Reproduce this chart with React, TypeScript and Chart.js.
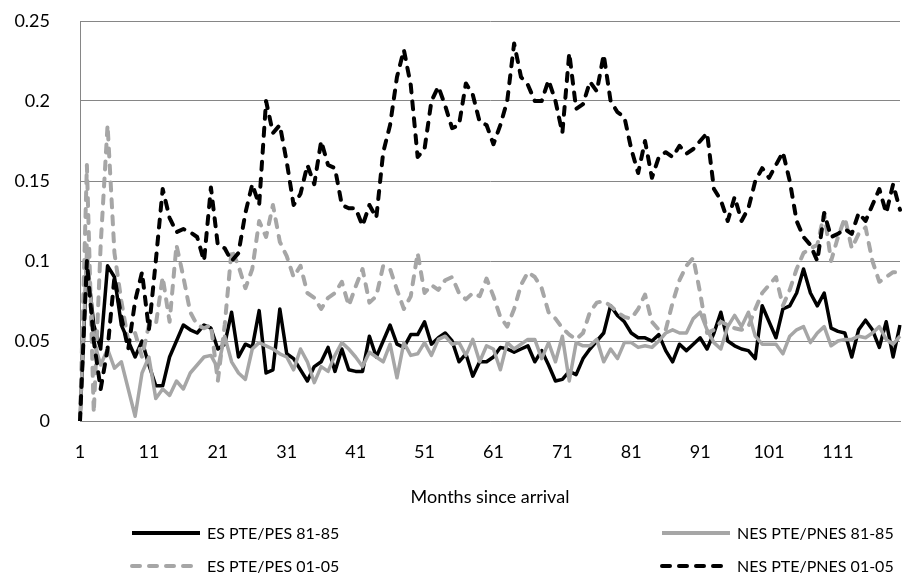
import React, { useEffect, useRef } from "react";
import { Chart, registerables } from "chart.js";
Chart.register(...registerables);

const months: string[] = Array.from({ length: 120 }, (_, i) => String(i + 1));

const yTicks = [0, 0.05, 0.1, 0.15, 0.2, 0.25];

const seriesNames = ["ES PTE/PES 81-85", "NES PTE/PNES 81-85", "ES PTE/PES 01-05", "NES PTE/PNES 01-05"];

const esPes8185 = [
  0, 0.1, 0.06, 0.045, 0.097, 0.09, 0.06, 0.05, 0.04, 0.05, 0.035, 0.022, 0.022, 0.04, 0.05, 0.06, 0.057, 0.055, 0.06, 0.058,
  0.045, 0.048, 0.068, 0.04, 0.048, 0.046, 0.069, 0.03, 0.032, 0.07, 0.042, 0.039, 0.032, 0.025, 0.034, 0.037, 0.046, 0.031, 0.045, 0.032,
  0.031, 0.031, 0.053, 0.04, 0.05, 0.06, 0.048, 0.046, 0.054, 0.054, 0.062, 0.048, 0.052, 0.055, 0.05, 0.037, 0.042, 0.028, 0.037, 0.037,
  0.04, 0.046, 0.045, 0.043, 0.045, 0.047, 0.037, 0.044, 0.035, 0.025, 0.026, 0.031, 0.029, 0.039, 0.045, 0.05, 0.055, 0.072, 0.066, 0.062,
  0.055, 0.052, 0.052, 0.05, 0.054, 0.044, 0.037, 0.048, 0.044, 0.048, 0.052, 0.045, 0.055, 0.068, 0.05, 0.047, 0.045, 0.044, 0.039, 0.072,
  0.062, 0.052, 0.07, 0.072, 0.08, 0.095, 0.08, 0.072, 0.08, 0.058, 0.056, 0.055, 0.04, 0.057, 0.063, 0.057, 0.046, 0.062, 0.04, 0.06,
];

const nesPnes8185 = [
  0, 0.11, 0.05, 0.035, 0.045, 0.033, 0.037, 0.02, 0.003, 0.03, 0.04, 0.014, 0.02, 0.016, 0.025, 0.02, 0.03, 0.035, 0.04, 0.041,
  0.033, 0.053, 0.037, 0.03, 0.026, 0.045, 0.049, 0.047, 0.045, 0.042, 0.04, 0.032, 0.045, 0.037, 0.024, 0.034, 0.031, 0.041, 0.049, 0.045,
  0.04, 0.034, 0.043, 0.04, 0.037, 0.048, 0.027, 0.049, 0.041, 0.042, 0.049, 0.041, 0.051, 0.053, 0.048, 0.049, 0.041, 0.051, 0.037, 0.047,
  0.045, 0.032, 0.049, 0.045, 0.048, 0.051, 0.051, 0.039, 0.049, 0.037, 0.053, 0.025, 0.049, 0.047, 0.047, 0.051, 0.037, 0.045, 0.039, 0.049,
  0.049, 0.046, 0.047, 0.046, 0.05, 0.055, 0.057, 0.055, 0.055, 0.064, 0.068, 0.057, 0.049, 0.045, 0.059, 0.066, 0.059, 0.068, 0.053, 0.048,
  0.048, 0.048, 0.042, 0.053, 0.057, 0.059, 0.049, 0.055, 0.059, 0.047, 0.05, 0.051, 0.051, 0.053, 0.052, 0.055, 0.059, 0.051, 0.048, 0.053,
];

const esPes0105 = [
  0, 0.16, 0.005, 0.11, 0.185, 0.105, 0.075, 0.05, 0.055, 0.04, 0.06, 0.06, 0.09, 0.062, 0.11, 0.09, 0.068, 0.06, 0.058, 0.06,
  0.025, 0.06, 0.107, 0.097, 0.083, 0.095, 0.125, 0.115, 0.135, 0.112, 0.103, 0.09, 0.097, 0.08, 0.077, 0.07, 0.077, 0.08, 0.087, 0.072,
  0.084, 0.095, 0.074, 0.078, 0.097, 0.095, 0.082, 0.07, 0.078, 0.105, 0.08, 0.085, 0.082, 0.088, 0.09, 0.08, 0.076, 0.08, 0.078, 0.089,
  0.078, 0.065, 0.059, 0.07, 0.085, 0.093, 0.09, 0.083, 0.068, 0.064, 0.058, 0.054, 0.051, 0.055, 0.068, 0.074, 0.075, 0.072, 0.068, 0.065,
  0.064, 0.07, 0.079, 0.062, 0.057, 0.057, 0.074, 0.088, 0.097, 0.102, 0.08, 0.055, 0.057, 0.062, 0.06, 0.058, 0.057, 0.059, 0.07, 0.08,
  0.085, 0.09, 0.072, 0.082, 0.095, 0.105, 0.108, 0.11, 0.13, 0.1, 0.115, 0.127, 0.108, 0.117, 0.121, 0.1, 0.087, 0.09, 0.093, 0.093,
];

const nesPnes0105 = [
  0, 0.1, 0.05, 0.02, 0.045, 0.09, 0.065, 0.045, 0.075, 0.093, 0.057, 0.1, 0.145, 0.127, 0.118, 0.12, 0.118, 0.115, 0.1, 0.146,
  0.11, 0.108, 0.1, 0.105, 0.13, 0.148, 0.135, 0.2, 0.18, 0.185, 0.162, 0.135, 0.142, 0.16, 0.148, 0.175, 0.16, 0.158, 0.135, 0.133,
  0.133, 0.122, 0.135, 0.127, 0.168, 0.185, 0.215, 0.232, 0.21, 0.165, 0.17, 0.2, 0.209, 0.197, 0.183, 0.185, 0.211, 0.204, 0.187, 0.185,
  0.173, 0.185, 0.2, 0.236, 0.215, 0.21, 0.2, 0.2, 0.213, 0.2, 0.18, 0.23, 0.195, 0.198, 0.212, 0.206, 0.229, 0.2, 0.193, 0.19,
  0.17, 0.155, 0.175, 0.152, 0.165, 0.168, 0.165, 0.172, 0.167, 0.17, 0.175, 0.18, 0.145, 0.138, 0.125, 0.14, 0.125, 0.133, 0.15, 0.158,
  0.152, 0.16, 0.168, 0.15, 0.125, 0.115, 0.11, 0.1, 0.13, 0.115, 0.117, 0.12, 0.117, 0.13, 0.125, 0.135, 0.145, 0.13, 0.148, 0.132,
];

const BLACK = "#000000";
const GRAY = "#A6A6A6";
const AXIS = "#868686";
const FONT = "Lato, 'Liberation Sans', sans-serif";
const FSIZE = 18;
const LEGEND_FSIZE = 16;
const DASH = [8, 9];

export default function App() {
  const ref = useRef<HTMLCanvasElement>(null);

  useEffect(() => {
    document.body.style.margin = "0";
    const legendPlugin = {
      id: "twoColLegend",
      afterDraw(chart: any) {
        const ctx = chart.ctx;
        const pos = [
          { x: 130, y: 533 },
          { x: 660, y: 533 },
          { x: 130, y: 566 },
          { x: 660, y: 566 },
        ];
        const dsByLabel: any = {};
        chart.data.datasets.forEach((d: any) => (dsByLabel[d.label] = d));
        ctx.save();
        seriesNames.forEach((name, i) => {
          const d = dsByLabel[name];
          const p = pos[i];
          ctx.beginPath();
          ctx.strokeStyle = d.borderColor;
          ctx.lineWidth = 4;
          ctx.lineCap = d.borderDash && d.borderDash.length ? "round" : "butt";
          ctx.setLineDash(d.borderDash || []);
          ctx.moveTo(p.x + 2, p.y);
          ctx.lineTo(p.x + 70, p.y);
          ctx.stroke();
          ctx.setLineDash([]);
          ctx.fillStyle = "#000";
          ctx.font = `${LEGEND_FSIZE}px ${FONT}`;
          ctx.textBaseline = "middle";
          ctx.textAlign = "left";
          ctx.fillText(name, p.x + 77, p.y + 1);
        });
        ctx.restore();
      },
    };

    const mk = (label: string, data: number[], color: string, dashed: boolean, order: number) => ({
      label,
      data,
      borderColor: color,
      backgroundColor: color,
      borderWidth: dashed ? 4 : 3.5,
      borderDash: dashed ? DASH : [],
      borderCapStyle: dashed ? "round" : "butt",
      borderJoinStyle: "round",
      pointRadius: 0,
      tension: 0,
      fill: false,
      order,
    });

    const chart = new Chart(ref.current as HTMLCanvasElement, {
      type: "line",
      data: {
        labels: months,
        datasets: [
          mk(seriesNames[0], esPes8185, BLACK, false, 4),
          mk(seriesNames[1], nesPnes8185, GRAY, false, 3),
          mk(seriesNames[2], esPes0105, GRAY, true, 2),
          mk(seriesNames[3], nesPnes0105, BLACK, true, 1),
        ] as any,
      },
      options: {
        animation: false,
        responsive: true,
        maintainAspectRatio: false,
        layout: { padding: { top: 21, right: 2, bottom: 70, left: 0 } },
        plugins: { legend: { display: false }, tooltip: { enabled: false } },
        scales: {
          x: {
            type: "category",
            offset: false,
            grid: { display: false, drawTicks: false },
            border: { display: true, color: AXIS, width: 1 },
            ticks: {
              autoSkip: false,
              maxRotation: 0,
              padding: 20,
              color: "#000",
              font: { family: FONT, size: FSIZE },
              callback: (_v: any, i: number) => (i % 10 === 0 ? months[i] : null),
            },
            title: {
              display: true,
              text: "Months since arrival",
              color: "#000",
              font: { family: FONT, size: FSIZE },
              padding: 0,
            },
            afterFit: (s: any) => {
              s.height = 87;
              s.paddingLeft = 0;
              s.paddingRight = 0;
            },
          },
          y: {
            min: 0,
            max: 0.25,
            grid: { color: AXIS, lineWidth: 1, drawTicks: false },
            border: { display: true, color: AXIS, width: 1 },
            ticks: {
              stepSize: 0.05,
              padding: 30,
              color: "#000",
              font: { family: FONT, size: FSIZE },
              callback: (v: any) => {
                const t = yTicks.find((k) => Math.abs(k - Number(v)) < 1e-9);
                return t === undefined ? null : String(t);
              },
            },
            afterFit: (s: any) => {
              s.width = 80;
              s.paddingTop = 0;
              s.paddingBottom = 0;
            },
          },
        },
      } as any,
      plugins: [legendPlugin],
    });
    return () => chart.destroy();
  }, []);

  return (
    <div style={{ position: "absolute", left: 0, top: 0, width: 902, height: 578 }}>
      <canvas ref={ref} />
    </div>
  );
}
